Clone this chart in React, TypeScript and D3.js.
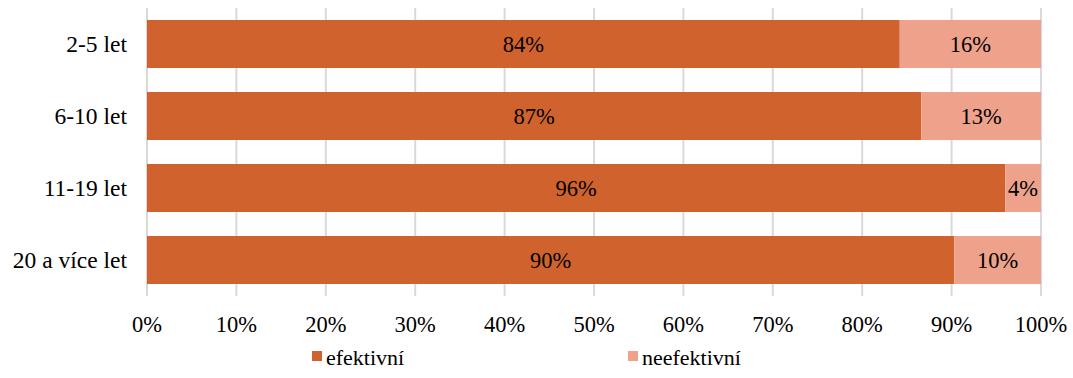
import React from "react";
import * as d3 from "d3";

const categories = ["2-5 let", "6-10 let", "11-19 let", "20 a více let"];
const efektivni = [0.842, 0.866, 0.96, 0.903];
const neefektivni = [0.158, 0.134, 0.04, 0.097];
const efektivniLabels = ["84%", "87%", "96%", "90%"];
const neefektivniLabels = ["16%", "13%", "4%", "10%"];
const seriesNames = ["efektivní", "neefektivní"];
const ticks = [0, 0.1, 0.2, 0.3, 0.4, 0.5, 0.6, 0.7, 0.8, 0.9, 1];

const W = 1073;
const H = 378;
const colors = ["#D0632D", "#EEA18B"];
const font = "'Liberation Serif', 'Times New Roman', serif";

export default function App() {
  const x = d3.scaleLinear().domain([0, 1]).range([147, 1041]);
  const y = d3.scaleBand<string>().domain(categories).range([8, 296]).paddingInner(1 / 3).paddingOuter(1 / 6);
  const fmt = d3.format(".0%");
  return (
    <svg width={W} height={H} style={{ position: "absolute", left: 0, top: 0, background: "#fff" }} fontFamily={font}>
      {ticks.map((t) => (
        <line key={t} x1={x(t)} x2={x(t)} y1={8} y2={296} stroke="#d9d9d9" strokeWidth={2} />
      ))}
      {categories.map((c, i) => {
        const y0 = y(c)!;
        const bh = y.bandwidth();
        const a = efektivni[i];
        const b = neefektivni[i];
        return (
          <g key={c}>
            <rect x={x(0)} y={y0} width={x(a) - x(0)} height={bh} fill={colors[0]} />
            <rect x={x(a)} y={y0} width={x(a + b) - x(a)} height={bh} fill={colors[1]} />
            <text x={x(a / 2)} y={y0 + bh / 2} dy="0.36em" textAnchor="middle" fontSize={22.5} fill="#000">
              {efektivniLabels[i]}
            </text>
            <text x={x(a + b / 2)} y={y0 + bh / 2} dy="0.36em" textAnchor="middle" fontSize={22.5} fill="#000">
              {neefektivniLabels[i]}
            </text>
            <text x={127} y={y0 + bh / 2} dy="0.36em" textAnchor="end" fontSize={23.5} fill="#000">
              {c}
            </text>
          </g>
        );
      })}
      {ticks.map((t) => (
        <text key={"l" + t} x={x(t)} y={332} textAnchor="middle" fontSize={22.5} fill="#000">
          {fmt(t)}
        </text>
      ))}
      {seriesNames.map((s, i) => {
        const lx = [312, 628][i];
        return (
          <g key={s}>
            <rect x={lx} y={351} width={10} height={10} fill={colors[i]} />
            <text x={lx + 14} y={365} fontSize={22} fill="#000">
              {s}
            </text>
          </g>
        );
      })}
    </svg>
  );
}
